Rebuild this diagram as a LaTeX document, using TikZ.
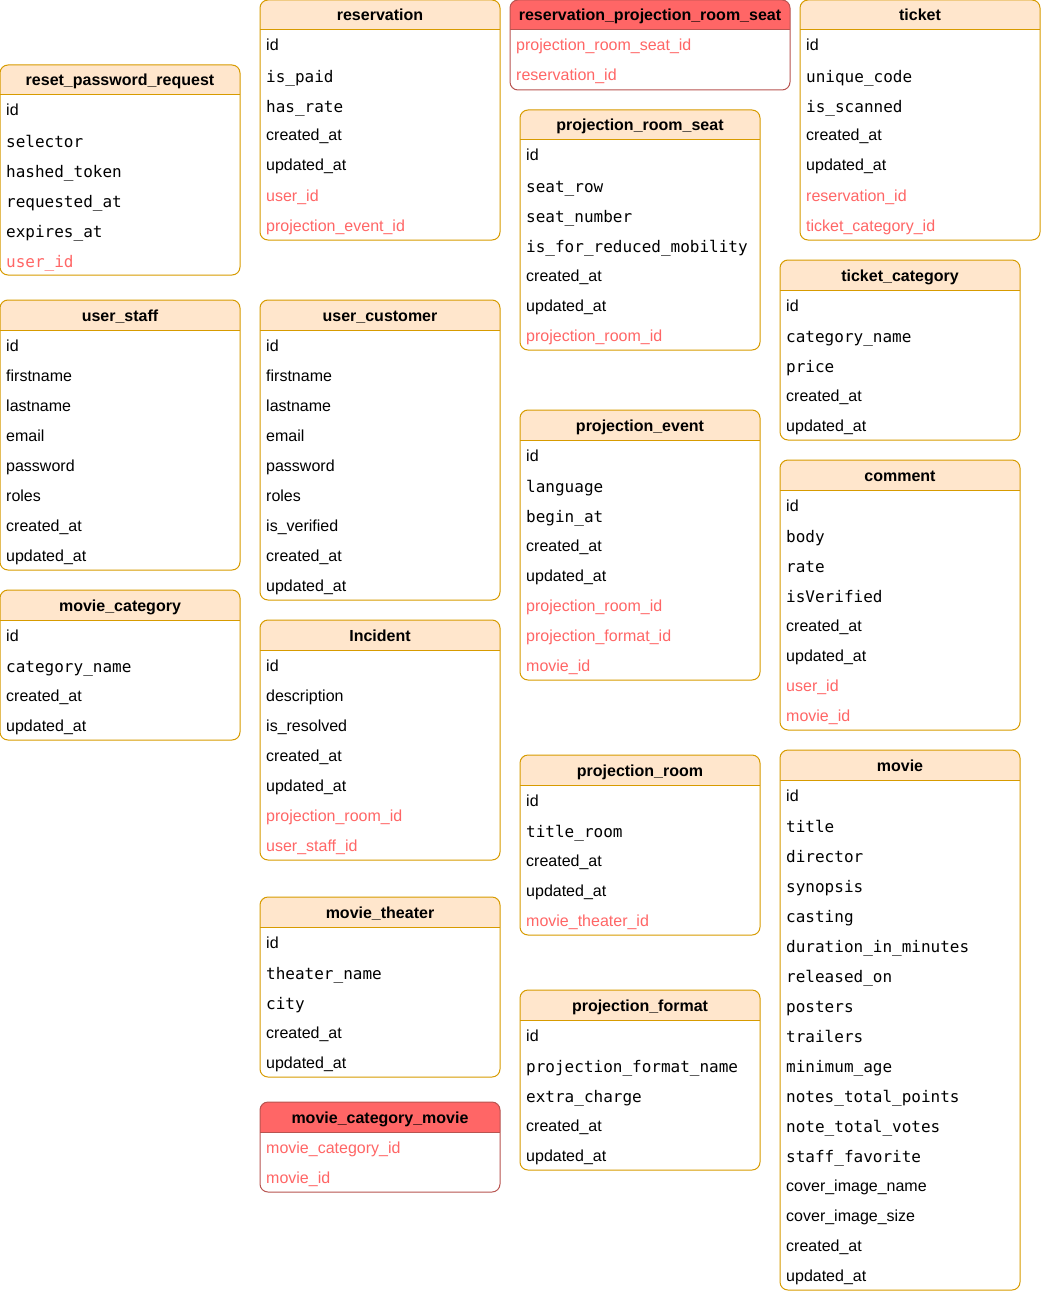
\documentclass[tikz,border=0pt]{standalone}
\usepackage{fontspec}
\setmainfont{Liberation Sans}
\newfontfamily\monofont{DejaVu Sans Mono}
\usepackage{tikz}

\definecolor{orfill}{HTML}{FFE6CC}
\definecolor{orline}{HTML}{D79B00}
\definecolor{rdfill}{HTML}{FF6666}
\definecolor{rdline}{HTML}{B85450}
\definecolor{fkred}{HTML}{FF6666}

\tikzset{
  orhead/.style={fill=orfill},
  rdhead/.style={fill=rdfill},
  orline/.style={draw=orline, line width=1pt},
  rdline/.style={draw=rdline, line width=1pt},
  title/.style={font=\fontsize{16}{19}\selectfont\bfseries, inner sep=0pt, text height=12pt, text depth=0pt},
  fs/.style={anchor=west, inner sep=0pt, font=\fontsize{16}{19}\selectfont, text height=12pt, text depth=0pt},
  fm/.style={anchor=west, inner sep=0pt, font=\fontsize{16}{19}\monofont, text height=15pt, text depth=0pt},
  fr/.style={fs, text=fkred},
  frm/.style={fm, text=fkred},
}

% #1 name, #2 x, #3 y, #4 width, #5 or/rd, #6 title, #7 rows
\newcommand\dbtable[7]{%
  \foreach \kind/\txt [count=\n] in {#7} {\xdef\nrows{\n}}
  \pgfmathsetmacro\tblh{30+30*\nrows}
  \fill[white, rounded corners=8pt] (#2,#3) rectangle ++(#4,\tblh);
  \fill[#5head] (#2,#3+30) [rounded corners=8pt] -- (#2,#3) -- (#2+#4,#3) [sharp corners] -- (#2+#4,#3+30) -- cycle;
  \draw[#5line] (#2,#3+30) -- ++(#4,0);
  \draw[#5line, rounded corners=8pt] (#2,#3) rectangle ++(#4,\tblh);
  \node[title] (#1) at (#2+#4/2,#3+15) {#6};
  \foreach \kind/\txt [count=\i] in {#7} {
    \node[\kind] (#1-\i) at (#2+6,#3+15+30*\i) {\txt};
  }
}

\begin{document}
\begin{tikzpicture}[x=1pt, y=-1pt]
  \useasboundingbox (0,0) rectangle (1042,1292);

  %%% left column
  \dbtable{resetpw}{0}{65}{240}{or}{reset\_password\_request}{fs/id, fm/selector, fm/hashed\_token, fm/requested\_at, fm/expires\_at, frm/user\_id}
  \dbtable{staff}{0}{300}{240}{or}{user\_staff}{fs/id, fs/firstname, fs/lastname, fs/email, fs/password, fs/roles, fs/created\_at, fs/updated\_at}
  \dbtable{moviecat}{0}{590}{240}{or}{movie\_category}{fs/id, fm/category\_name, fs/created\_at, fs/updated\_at}

  %%% second column
  \dbtable{reservation}{260}{0}{240}{or}{reservation}{fs/id, fm/is\_paid, fm/has\_rate, fs/created\_at, fs/updated\_at, fr/user\_id, fr/projection\_event\_id}
  \dbtable{customer}{260}{300}{240}{or}{user\_customer}{fs/id, fs/firstname, fs/lastname, fs/email, fs/password, fs/roles, fs/is\_verified, fs/created\_at, fs/updated\_at}
  \dbtable{incident}{260}{620}{240}{or}{Incident}{fs/id, fs/description, fs/is\_resolved, fs/created\_at, fs/updated\_at, fr/projection\_room\_id, fr/user\_staff\_id}
  \dbtable{theater}{260}{897}{240}{or}{movie\_theater}{fs/id, fm/theater\_name, fm/city, fs/created\_at, fs/updated\_at}
  \dbtable{moviecatmovie}{260}{1102}{240}{rd}{movie\_category\_movie}{fr/movie\_category\_id, fr/movie\_id}

  %%% third column
  \dbtable{resseat}{510}{0}{280}{rd}{reservation\_projection\_room\_seat}{fr/projection\_room\_seat\_id, fr/reservation\_id}
  \dbtable{seat}{520}{110}{240}{or}{projection\_room\_seat}{fs/id, fm/seat\_row, fm/seat\_number, fm/is\_for\_reduced\_mobility, fs/created\_at, fs/updated\_at, fr/projection\_room\_id}
  \dbtable{event}{520}{410}{240}{or}{projection\_event}{fs/id, fm/language, fm/begin\_at, fs/created\_at, fs/updated\_at, fr/projection\_room\_id, fr/projection\_format\_id, fr/movie\_id}
  \dbtable{room}{520}{755}{240}{or}{projection\_room}{fs/id, fm/title\_room, fs/created\_at, fs/updated\_at, fr/movie\_theater\_id}
  \dbtable{format}{520}{990}{240}{or}{projection\_format}{fs/id, fm/projection\_format\_name, fm/extra\_charge, fs/created\_at, fs/updated\_at}

  %%% right column
  \dbtable{ticket}{800}{0}{240}{or}{ticket}{fs/id, fm/unique\_code, fm/is\_scanned, fs/created\_at, fs/updated\_at, fr/reservation\_id, fr/ticket\_category\_id}
  \dbtable{ticketcat}{780}{260}{240}{or}{ticket\_category}{fs/id, fm/category\_name, fm/price, fs/created\_at, fs/updated\_at}
  \dbtable{comment}{780}{460}{240}{or}{comment}{fs/id, fm/body, fm/rate, fm/isVerified, fs/created\_at, fs/updated\_at, fr/user\_id, fr/movie\_id}
  \dbtable{movie}{780}{750}{240}{or}{movie}{fs/id, fm/title, fm/director, fm/synopsis, fm/casting, fm/duration\_in\_minutes, fm/released\_on, fm/posters, fm/trailers, fm/minimum\_age, fm/notes\_total\_points, fm/note\_total\_votes, fm/staff\_favorite, fs/cover\_image\_name, fs/cover\_image\_size, fs/created\_at, fs/updated\_at}
\end{tikzpicture}
\end{document}
